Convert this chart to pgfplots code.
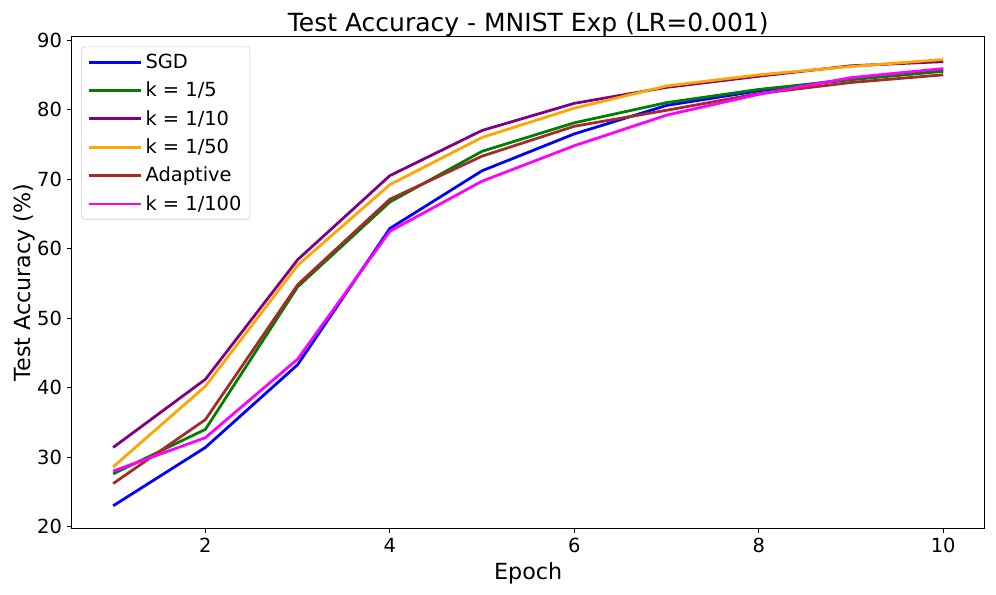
\documentclass[border=0pt]{standalone}
\usepackage{fontspec}
\setmainfont{DejaVu Sans}
\usepackage{pgfplots}
\pgfplotsset{compat=1.18}
\definecolor{mplgreen}{RGB}{0,128,0}
\definecolor{mplpurple}{RGB}{128,0,128}
\definecolor{mplorange}{RGB}{255,165,0}
\definecolor{mplbrown}{RGB}{165,42,42}
\definecolor{mplmagenta}{RGB}{255,0,255}
\tikzset{ln/.style={line width=2pt, line join=round}}
\begin{document}
\begin{tikzpicture}
\begin{axis}[
  name=ax,
  width=657.4pt, height=353.6pt, scale only axis,
  xmin=0.55, xmax=10.45, ymin=19.8, ymax=90.45,
  xtick={2,4,6,8,10}, ytick={20,30,40,50,60,70,80,90},
  tick align=outside, major tick length=3.5pt,
  tick style={black, line width=0.8pt},
  axis line style={line width=0.8pt},
  xtick pos=bottom, ytick pos=left,
  /pgf/number format/assume math mode=true,
  ticklabel style={font=\fontsize{14}{17}\selectfont},
  title={Test Accuracy - MNIST Exp (LR=0.001)},
  title style={font=\fontsize{18}{21}\selectfont, yshift=-9.5pt},
  xlabel={Epoch}, ylabel={Test Accuracy (\%)},
  label style={font=\fontsize{16}{19}\selectfont},
  xlabel style={yshift=-0.5pt},
  ylabel style={yshift=-5.5pt},
  legend cell align=left,
  legend style={at={(0,1)}, anchor=north west, xshift=7pt, yshift=-7pt,
    draw=black!20, rounded corners=2pt, font=\fontsize{14}{17}\selectfont,
    row sep=4.3pt, inner xsep=4pt, inner ysep=3pt},
  legend image code/.code={\path (0pt,0pt) -- (38pt,0pt);\draw[#1] (0pt,0pt) -- (30pt,0pt);},
]
\addplot[ln, blue] coordinates {(1,23.0)(2,31.4)(3,43.3)(4,62.9)(5,71.2)(6,76.5)(7,80.6)(8,82.7)(9,84.4)(10,85.8)};
\addlegendentry{SGD}
\addplot[ln, mplgreen] coordinates {(1,27.6)(2,34.0)(3,54.5)(4,66.7)(5,74.0)(6,78.1)(7,81.0)(8,82.9)(9,84.3)(10,85.5)};
\addlegendentry{k = 1/5}
\addplot[ln, mplpurple] coordinates {(1,31.4)(2,41.2)(3,58.4)(4,70.5)(5,77.0)(6,80.9)(7,83.2)(8,84.8)(9,86.3)(10,86.9)};
\addlegendentry{k = 1/10}
\addplot[ln, mplorange] coordinates {(1,28.6)(2,40.2)(3,57.6)(4,69.2)(5,76.0)(6,80.2)(7,83.4)(8,85.0)(9,86.2)(10,87.2)};
\addlegendentry{k = 1/50}
\addplot[ln, mplbrown] coordinates {(1,26.2)(2,35.4)(3,54.8)(4,67.1)(5,73.3)(6,77.6)(7,79.9)(8,82.3)(9,83.9)(10,85.0)};
\addlegendentry{Adaptive}
\addplot[ln, mplmagenta] coordinates {(1,28.0)(2,32.8)(3,44.1)(4,62.5)(5,69.7)(6,74.8)(7,79.2)(8,82.2)(9,84.6)(10,85.9)};
\addlegendentry{k = 1/100}
\end{axis}
\pgfresetboundingbox
\path ([xshift=-51.6pt, yshift=-47.5pt]ax.south west) rectangle ++(717.1pt,427.7pt);
\end{tikzpicture}
\end{document}
